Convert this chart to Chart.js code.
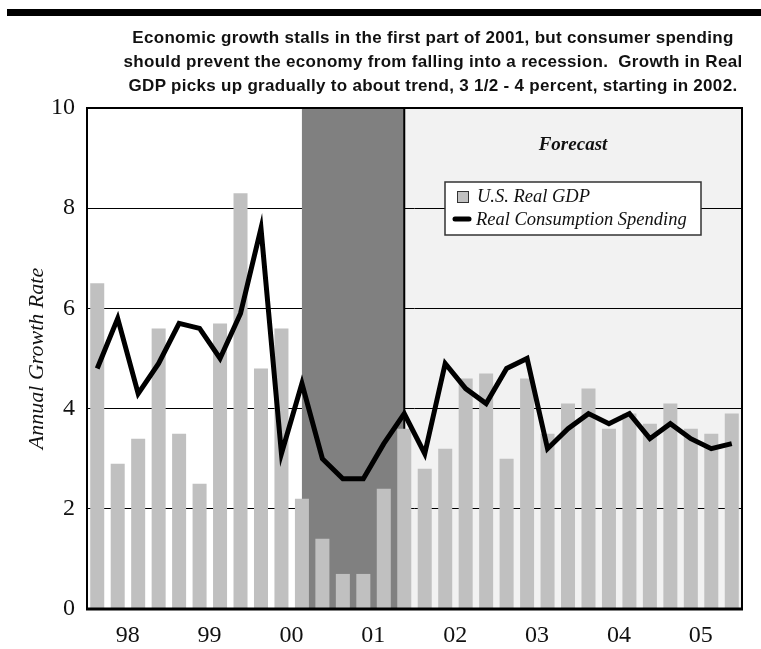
<!DOCTYPE html>
<html>
<head>
<meta charset="utf-8">
<script src="https://cdn.jsdelivr.net/npm/chart.js@4.4.1/dist/chart.umd.min.js"></script>
<style>
  body { margin: 0; background: #fff; }
  #wrap { position: relative; width: 761px; height: 649px; }
  #wrap canvas { position: absolute; left: 0; top: 0; }
  #topRule { position: absolute; left: 7px; top: 9px; width: 754px; height: 7px; background: #000; }
  #headline {
    position: absolute; left: 433px; top: 26px; transform: translateX(-50%);
    white-space: nowrap; text-align: center; color: #111;
    font: bold 17px "Liberation Sans", Arial, sans-serif; line-height: 24px; letter-spacing: 0.3px;
  }
</style>
</head>
<body>
<div id="wrap">
  <canvas id="growthChart" width="761" height="649"></canvas>
  <div id="topRule"></div>
  <div id="headline">
    Economic growth stalls in the first part of 2001, but consumer spending<br>
    should prevent the economy from falling into a recession.&nbsp; Growth in Real<br>
    GDP picks up gradually to about trend, 3 1/2 - 4 percent, starting in 2002.
  </div>
</div>
<script>
// quarterly categories, 1998 through 2005
var quarters = [
    '98Q1', '98Q2', '98Q3', '98Q4', '99Q1', '99Q2', '99Q3', '99Q4',
    '00Q1', '00Q2', '00Q3', '00Q4', '01Q1', '01Q2', '01Q3', '01Q4',
    '02Q1', '02Q2', '02Q3', '02Q4', '03Q1', '03Q2', '03Q3', '03Q4',
    '04Q1', '04Q2', '04Q3', '04Q4', '05Q1', '05Q2', '05Q3', '05Q4'
];
var yearLabels = ['98', '99', '00', '01', '02', '03', '04', '05'];

// annual growth rates, percent
var realGDP = [
    6.5, 2.9, 3.4, 5.6, 3.5, 2.5, 5.7, 8.3,
    4.8, 5.6, 2.2, 1.4, 0.7, 0.7, 2.4, 3.6,
    2.8, 3.2, 4.6, 4.7, 3.0, 4.6, 3.5, 4.1,
    4.4, 3.6, 3.9, 3.7, 4.1, 3.6, 3.5, 3.9
];
var realConsumption = [
    4.8, 5.8, 4.3, 4.9, 5.7, 5.6, 5.0, 5.9,
    7.6, 3.1, 4.5, 3.0, 2.6, 2.6, 3.3, 3.9,
    3.1, 4.9, 4.4, 4.1, 4.8, 5.0, 3.2, 3.6,
    3.9, 3.7, 3.9, 3.4, 3.7, 3.4, 3.2, 3.3
];

var recessionStart = '00Q3';
var forecastStart = '01Q4';

var serif = '"Liberation Serif", "Times New Roman", serif';

// shaded periods, plot frame, legend box and the "Forecast" note
var panels = {
    id: 'panels',
    beforeDraw: function (chart) {
        var ctx = chart.ctx, a = chart.chartArea, x = chart.scales.x;
        var fx = x.getPixelForValue(quarters.indexOf(forecastStart));
        ctx.save();
        ctx.fillStyle = '#f2f2f2';
        ctx.fillRect(fx, a.top, a.right - fx, a.bottom - a.top);
        ctx.restore();
    },
    beforeDatasetsDraw: function (chart) {
        var ctx = chart.ctx, a = chart.chartArea, x = chart.scales.x;
        var rx = x.getPixelForValue(quarters.indexOf(recessionStart));
        var fx = x.getPixelForValue(quarters.indexOf(forecastStart));
        ctx.save();
        ctx.fillStyle = '#808080';
        ctx.fillRect(rx, a.top, fx - rx, a.bottom - a.top);
        ctx.strokeStyle = '#000';
        ctx.lineWidth = 2;
        ctx.beginPath();
        ctx.moveTo(fx, a.top);
        ctx.lineTo(fx, a.bottom);
        ctx.stroke();
        ctx.restore();
    },
    afterDatasetsDraw: function (chart) {
        var ctx = chart.ctx, a = chart.chartArea;
        ctx.save();
        ctx.strokeStyle = '#000';
        ctx.lineWidth = 2;
        ctx.strokeRect(a.left, a.top, a.right - a.left, a.bottom - a.top);
        ctx.lineWidth = 3;
        ctx.beginPath();
        ctx.moveTo(a.left - 1, a.bottom);
        ctx.lineTo(a.right + 1, a.bottom);
        ctx.stroke();
        ctx.restore();
    },
    afterDraw: function (chart) {
        var ctx = chart.ctx;
        var sets = chart.data.datasets;
        ctx.save();
        ctx.fillStyle = '#111';
        ctx.font = 'italic bold 19px ' + serif;
        ctx.textAlign = 'center';
        ctx.textBaseline = 'alphabetic';
        ctx.fillText('Forecast', 573, 150);

        // legend
        ctx.fillStyle = '#fff';
        ctx.fillRect(445, 182, 256, 53);
        ctx.strokeStyle = '#333';
        ctx.lineWidth = 1.5;
        ctx.strokeRect(445, 182, 256, 53);

        ctx.fillStyle = sets[1].backgroundColor;
        ctx.fillRect(457, 191, 12, 12);
        ctx.lineWidth = 1;
        ctx.strokeRect(457.5, 191.5, 11, 11);

        ctx.strokeStyle = '#000';
        ctx.lineWidth = 5;
        ctx.lineCap = 'round';
        ctx.beginPath();
        ctx.moveTo(455, 219);
        ctx.lineTo(469, 219);
        ctx.stroke();

        ctx.fillStyle = '#111';
        ctx.font = 'italic 18.5px ' + serif;
        ctx.textAlign = 'left';
        ctx.fillText(sets[1].label, 477, 202);
        ctx.fillText(sets[0].label, 476, 225);
        ctx.restore();
    }
};

var ctx = document.getElementById('growthChart').getContext('2d');
var growthChart = new Chart(ctx, {
    type: 'bar',
    data: {
        labels: quarters,
        datasets: [
            {
                type: 'line',
                label: 'Real Consumption Spending',
                data: realConsumption,
                borderColor: '#000',
                borderWidth: 5,
                pointRadius: 0,
                tension: 0,
                fill: false,
                order: 0
            },
            {
                label: 'U.S. Real GDP',
                data: realGDP,
                backgroundColor: '#c0c0c0',
                borderWidth: 0,
                barPercentage: 0.685,
                categoryPercentage: 1.0,
                order: 1
            }
        ]
    },
    options: {
        responsive: false,
        animation: false,
        layout: { padding: { top: 108, right: 19, bottom: 0, left: 0 } },
        plugins: {
            legend: { display: false },
            tooltip: { enabled: false }
        },
        scales: {
            x: {
                grid: { display: false },
                border: { display: false },
                afterFit: function (scale) { scale.height = 40; },
                ticks: {
                    autoSkip: false,
                    maxRotation: 0,
                    minRotation: 0,
                    padding: 4,
                    labelOffset: 10,
                    color: '#111',
                    font: { family: serif, size: 24 },
                    callback: function (value, index) {
                        return index % 4 === 1 ? yearLabels[Math.floor(index / 4)] : '';
                    }
                }
            },
            y: {
                min: 0,
                max: 10,
                afterFit: function (scale) { scale.width = 87; },
                grid: { color: '#000', lineWidth: 1, drawTicks: false },
                border: { display: false },
                ticks: {
                    stepSize: 2,
                    padding: 12,
                    color: '#111',
                    font: { family: serif, size: 24 }
                },
                title: {
                    display: true,
                    text: 'Annual Growth Rate',
                    color: '#111',
                    font: { family: serif, size: 22, style: 'italic' },
                    padding: { top: 24, bottom: 0 }
                }
            }
        }
    },
    plugins: [panels]
});
</script>
</body>
</html>
